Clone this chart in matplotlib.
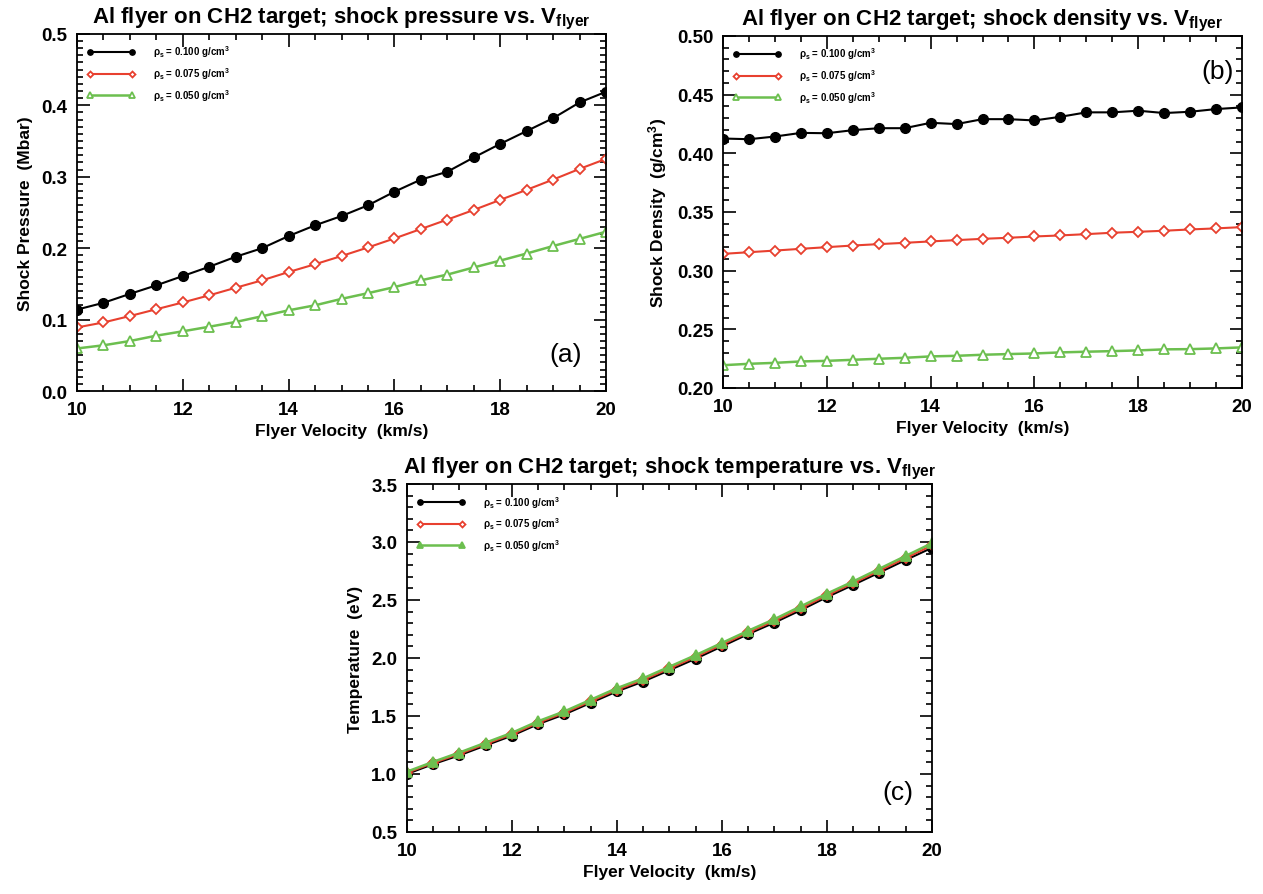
import matplotlib
matplotlib.use("Agg")
import matplotlib.pyplot as plt
from matplotlib.ticker import MultipleLocator

plt.rcParams['font.family'] = ['Liberation Sans', 'DejaVu Sans']
plt.rcParams['mathtext.fontset'] = 'custom'
plt.rcParams['mathtext.rm'] = 'Liberation Sans'
plt.rcParams['mathtext.bf'] = 'Liberation Sans:bold'
plt.rcParams['mathtext.it'] = 'Liberation Sans:italic'
plt.rcParams['mathtext.default'] = 'regular'

velocity = [10.0, 10.5, 11.0, 11.5, 12.0, 12.5, 13.0, 13.5, 14.0, 14.5, 15.0,
            15.5, 16.0, 16.5, 17.0, 17.5, 18.0, 18.5, 19.0, 19.5, 20.0]

series_labels = [r'$\rho_s$ = 0.100 g/cm$^3$', r'$\rho_s$ = 0.075 g/cm$^3$', r'$\rho_s$ = 0.050 g/cm$^3$']

pressure_100 = [0.114, 0.1235, 0.136, 0.148, 0.161, 0.174, 0.188, 0.200, 0.217, 0.232, 0.245,
                0.260, 0.279, 0.296, 0.307, 0.327, 0.346, 0.364, 0.382, 0.404, 0.419]
pressure_075 = [0.089, 0.096, 0.105, 0.1145, 0.124, 0.134, 0.1446, 0.155, 0.1666, 0.1775, 0.189,
                0.201, 0.2136, 0.2268, 0.240, 0.2535, 0.2676, 0.2817, 0.296, 0.311, 0.325]
pressure_050 = [0.0596, 0.064, 0.070, 0.0775, 0.0836, 0.090, 0.0967, 0.1047, 0.113, 0.120, 0.129,
                0.137, 0.1455, 0.155, 0.163, 0.173, 0.1826, 0.1925, 0.203, 0.213, 0.223]

density_100 = [0.4126, 0.412, 0.4143, 0.4174, 0.4171, 0.4197, 0.4214, 0.4214, 0.426, 0.4249, 0.4291,
               0.4291, 0.428, 0.4311, 0.4349, 0.4349, 0.4363, 0.4343, 0.4354, 0.4377, 0.4391]
density_075 = [0.3143, 0.3157, 0.3171, 0.3186, 0.3200, 0.3214, 0.3226, 0.3237, 0.3249, 0.3260, 0.3271,
               0.3280, 0.3291, 0.3300, 0.3311, 0.3323, 0.3331, 0.3340, 0.3351, 0.3360, 0.3371]
density_050 = [0.2194, 0.2206, 0.2214, 0.2226, 0.2231, 0.2240, 0.2249, 0.2257, 0.2269, 0.2274, 0.2283,
               0.2289, 0.2294, 0.2303, 0.2309, 0.2314, 0.2320, 0.2329, 0.2331, 0.2337, 0.2346]

temperature_100 = [1.000, 1.085, 1.161, 1.246, 1.330, 1.430, 1.514, 1.613, 1.712, 1.797, 1.895,
                   1.994, 2.100, 2.206, 2.305, 2.412, 2.525, 2.630, 2.737, 2.845, 2.950]
temperature_075 = [1.010, 1.095, 1.173, 1.258, 1.342, 1.442, 1.527, 1.626, 1.726, 1.811, 1.910,
                   2.010, 2.115, 2.220, 2.320, 2.428, 2.540, 2.645, 2.753, 2.862, 2.970]
temperature_050 = [1.020, 1.105, 1.185, 1.270, 1.355, 1.455, 1.540, 1.640, 1.740, 1.825, 1.925,
                   2.025, 2.130, 2.235, 2.335, 2.445, 2.555, 2.660, 2.770, 2.880, 2.990]

BLACK = '#000000'
RED = '#e8402f'
GREEN = '#6cbf4f'

fig = plt.figure(figsize=(12.63, 8.95), dpi=100)

ax_a = fig.add_axes([0.0610, 0.5620, 0.4188, 0.3990])
ax_b = fig.add_axes([0.5725, 0.5654, 0.4109, 0.3933])
ax_c = fig.add_axes([0.3222, 0.0693, 0.4157, 0.3888])


def style_axes(ax, ymin, ymax, ymajor, yminor, fmt):
    ax.set_xlim(10, 20)
    ax.set_ylim(ymin, ymax)
    ax.xaxis.set_major_locator(MultipleLocator(2))
    ax.xaxis.set_minor_locator(MultipleLocator(0.5))
    ax.yaxis.set_major_locator(MultipleLocator(ymajor))
    ax.yaxis.set_minor_locator(MultipleLocator(yminor))
    ax.tick_params(which='both', direction='in', top=True, right=True, width=1.2)
    ax.tick_params(which='major', length=9, labelsize=13.5, pad=7)
    ax.tick_params(which='minor', length=4.5)
    for lab in ax.get_xticklabels() + ax.get_yticklabels():
        lab.set_fontweight('bold')
    ax.yaxis.set_major_formatter(matplotlib.ticker.FormatStrFormatter(fmt))
    for sp in ax.spines.values():
        sp.set_linewidth(1.3)
    ax.set_xlabel('Flyer Velocity  (km/s)', fontsize=12.5, fontweight='bold', labelpad=4)


def plot_three(ax, y1, y2, y3, green_fill):
    ax.plot(velocity, y1, color=BLACK, lw=1.5, marker='o', ms=7, mfc=BLACK, mec=BLACK,
            label=series_labels[0])
    ax.plot(velocity, y2, color=RED, lw=1.5, marker='D', ms=5.5, mfc='white', mec=RED, mew=1.3,
            label=series_labels[1])
    ax.plot(velocity, y3, color=GREEN, lw=1.8, marker='^', ms=7.5,
            mfc=GREEN if green_fill else 'white', mec=GREEN, mew=1.3,
            label=series_labels[2])
    leg = ax.legend(loc='upper left', frameon=False, fontsize=7, numpoints=2,
                    handlelength=5, borderaxespad=0.6, labelspacing=0.6,
                    handletextpad=1.8, markerscale=0.55)
    for t in leg.get_texts():
        t.set_fontweight('bold')


TITLE_KW = dict(fontsize=16, fontweight='bold', pad=8)

# Panel (a)
plot_three(ax_a, pressure_100, pressure_075, pressure_050, False)
style_axes(ax_a, 0.0, 0.5, 0.1, 0.01, '%.1f')
ax_a.set_ylabel('Shock Pressure  (Mbar)', fontsize=12.5, fontweight='bold', labelpad=6)
ax_a.set_title(r'Al flyer on CH2 target; shock pressure vs. V$_{\mathbf{flyer}}$', **TITLE_KW)
ax_a.text(0.955, 0.07, '(a)', transform=ax_a.transAxes, fontsize=19, ha='right', va='bottom')

# Panel (b)
plot_three(ax_b, density_100, density_075, density_050, False)
style_axes(ax_b, 0.20, 0.50, 0.05, 0.01, '%.2f')
ax_b.set_ylabel(r'Shock Density  (g/cm$^\mathbf{3}$)', fontsize=12.5, fontweight='bold', labelpad=6)
ax_b.set_title(r'Al flyer on CH2 target; shock density vs. V$_{\mathbf{flyer}}$', **TITLE_KW)
ax_b.text(0.985, 0.865, '(b)', transform=ax_b.transAxes, fontsize=19, ha='right', va='bottom')

# Panel (c)
plot_three(ax_c, temperature_100, temperature_075, temperature_050, True)
style_axes(ax_c, 0.5, 3.5, 0.5, 0.1, '%.1f')
ax_c.set_ylabel('Temperature  (eV)', fontsize=12.5, fontweight='bold', labelpad=6)
ax_c.set_title(r'Al flyer on CH2 target; shock temperature vs. V$_{\mathbf{flyer}}$', **TITLE_KW)
ax_c.text(0.965, 0.08, '(c)', transform=ax_c.transAxes, fontsize=19, ha='right', va='bottom')

fig.savefig('out.png', dpi=100)
